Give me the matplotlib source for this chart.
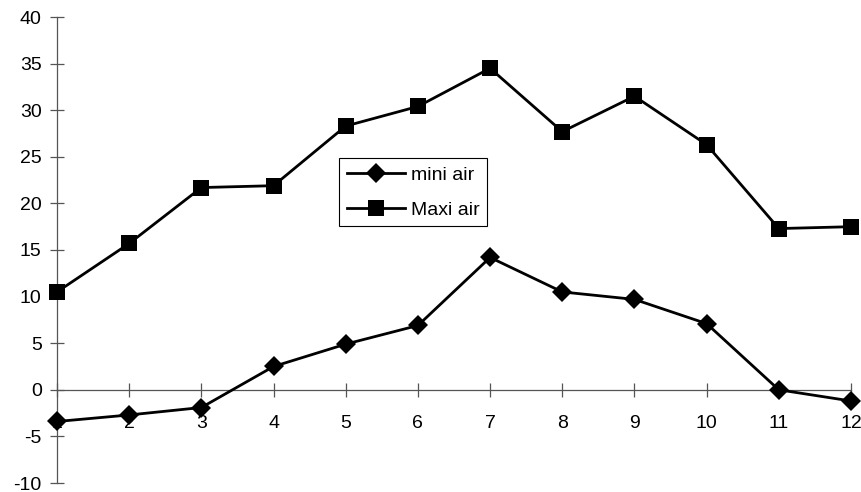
import matplotlib
matplotlib.use('Agg')
import matplotlib.pyplot as plt

# monthly values for both series
months = [1, 2, 3, 4, 5, 6, 7, 8, 9, 10, 11, 12]
mini_air = [-3.4, -2.7, -1.9, 2.5, 4.9, 6.9, 14.2, 10.5, 9.7, 7.1, 0.0, -1.2]
maxi_air = [10.5, 15.7, 21.7, 21.9, 28.3, 30.4, 34.5, 27.7, 31.5, 26.3, 17.3, 17.5]

plt.rcParams['font.family'] = ['Liberation Sans', 'DejaVu Sans']
plt.rcParams['axes.unicode_minus'] = False

fig = plt.figure(figsize=(8.61, 4.92), dpi=100)
ax = fig.add_axes([57 / 861, 1 - 483 / 492, 794 / 861, 466 / 492])

ax.plot(months, mini_air, color='black', lw=2, marker='D', ms=10,
        mew=0, label='mini air', clip_on=False, zorder=3)
ax.plot(months, maxi_air, color='black', lw=2, marker='s', ms=11.5,
        mew=0, label='Maxi air', clip_on=False, zorder=3)

ax.set_xlim(1, 12)
ax.set_ylim(-10, 40)
ax.set_xticks(months)
ax.set_yticks(range(-10, 41, 5))

# axes cross at zero like a spreadsheet chart
for side in ['top', 'right']:
    ax.spines[side].set_visible(False)
ax.spines['bottom'].set_position(('data', 0))
ax.spines['left'].set_position(('data', 1))
for side in ['bottom', 'left']:
    ax.spines[side].set_color('#555555')
    ax.spines[side].set_linewidth(0.9)

ax.tick_params(axis='both', direction='inout', length=10, width=0.9,
               color='#555555', labelsize=14, labelcolor='black')
ax.tick_params(axis='x', pad=13)
ax.tick_params(axis='y', pad=6)

leg = ax.legend(loc='upper left', bbox_to_anchor=(0.355, 0.697), fontsize=14,
                numpoints=1, handlelength=3.0, handletextpad=0.3,
                labelspacing=0.9, borderpad=0.4, borderaxespad=0,
                fancybox=False, framealpha=1)
leg.get_frame().set_edgecolor('black')
leg.get_frame().set_linewidth(0.8)

fig.savefig('out.png', dpi=100)
